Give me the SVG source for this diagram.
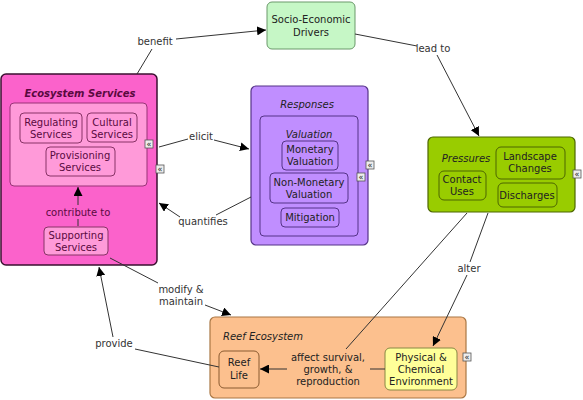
<svg xmlns="http://www.w3.org/2000/svg" width="583" height="400" viewBox="0 0 583 400">
<defs>
<marker id="ah" viewBox="0 0 10 10" refX="10" refY="5" markerWidth="9" markerHeight="9" markerUnits="userSpaceOnUse" orient="auto">
<path d="M0,0 L10,5 L0,10 z" fill="#000"/>
</marker>
</defs>
<style>
text{font-family:"DejaVu Sans",Verdana,sans-serif;font-size:10px;text-anchor:middle;fill:#222}
.es{fill:#5a0a3f}
.title{font-style:italic}
.bt{font-weight:bold}
.lbl{fill:#333}
.con{fill:none;stroke:#333;stroke-width:1}
.arr{marker-end:url(#ah)}
.icon rect{fill:#eee;stroke:#555;stroke-width:0.8}
.icon text{font-size:8px;fill:#222}
</style>
<rect width="583" height="400" fill="#fff"/>

<g id="ecosystem-services">
<rect x="1" y="74" width="156" height="191" rx="5" fill="#fb62cb" stroke="#3a1030" stroke-width="1.5"/>
<text class="es title bt" x="80" y="97">Ecosystem Services</text>
<rect x="10" y="103" width="137" height="83" rx="4" fill="#ff9ad9" stroke="#993377"/>
</g>
<g id="regulating-services">
<rect x="20" y="113" width="62" height="30" rx="4" fill="#ff9ad9" stroke="#883366"/>
<text class="es" x="51" y="126">Regulating</text>
<text class="es" x="51" y="138">Services</text>
</g>
<g id="cultural-services">
<rect x="87" y="113" width="50" height="29" rx="4" fill="#ff9ad9" stroke="#883366"/>
<text class="es" x="112" y="126">Cultural</text>
<text class="es" x="112" y="138">Services</text>
</g>
<g id="provisioning-services">
<rect x="46" y="147" width="69" height="29" rx="4" fill="#ff9ad9" stroke="#883366"/>
<text class="es" x="80" y="159">Provisioning</text>
<text class="es" x="80" y="171">Services</text>
</g>
<g id="supporting-services">
<rect x="44" y="227" width="64" height="28" rx="4" fill="#ff9ad9" stroke="#883366"/>
<text class="es" x="76" y="239">Supporting</text>
<text class="es" x="76" y="251">Services</text>
</g>
<g class="icon">
<rect x="145" y="140" width="8" height="8"/><text x="149" y="147">«</text>
<rect x="156" y="165" width="8" height="8"/><text x="160" y="172">«</text>
</g>

<g id="socio-economic-drivers">
<rect x="267" y="2" width="88" height="47" rx="5" fill="#c6f7c6" stroke="#6a996a"/>
<text x="311" y="23">Socio-Economic</text>
<text x="311" y="36">Drivers</text>
</g>

<g id="responses">
<rect x="251" y="86" width="117" height="159" rx="5" fill="#c08eff" stroke="#553388" stroke-width="1.2"/>
<text class="title" x="307" y="108" fill="#2a1144">Responses</text>
</g>
<g id="valuation">
<rect x="260" y="116" width="98" height="120" rx="4" fill="#c08eff" stroke="#553388"/>
<text class="title" x="309" y="138">Valuation</text>
</g>
<g id="monetary-valuation">
<rect x="282" y="141" width="56" height="29" rx="4" fill="#c08eff" stroke="#553388"/>
<text x="310" y="153">Monetary</text>
<text x="310" y="165">Valuation</text>
</g>
<g id="non-monetary-valuation">
<rect x="270" y="173" width="78" height="30" rx="4" fill="#c08eff" stroke="#553388"/>
<text x="309" y="186">Non-Monetary</text>
<text x="309" y="198">Valuation</text>
</g>
<g id="mitigation">
<rect x="281" y="208" width="58" height="19" rx="4" fill="#c08eff" stroke="#553388"/>
<text x="310" y="221">Mitigation</text>
</g>
<g class="icon">
<rect x="366" y="161" width="8" height="8"/><text x="370" y="168">«</text>
<rect x="357" y="173" width="8" height="8"/><text x="361" y="180">«</text>
</g>

<g id="pressures">
<rect x="428" y="137" width="147" height="75" rx="5" fill="#99cc00" stroke="#4d6600" stroke-width="1.2"/>
<text class="title" x="466" y="162" fill="#1e2e00">Pressures</text>
</g>
<g id="landscape-changes">
<rect x="496" y="147" width="69" height="32" rx="5" fill="#99cc00" stroke="#4d6600"/>
<text x="530" y="160">Landscape</text>
<text x="530" y="172">Changes</text>
</g>
<g id="contact-uses">
<rect x="439" y="171" width="47" height="29" rx="5" fill="#99cc00" stroke="#4d6600"/>
<text x="462" y="183">Contact</text>
<text x="462" y="195">Uses</text>
</g>
<g id="discharges">
<rect x="498" y="183" width="59" height="24" rx="5" fill="#99cc00" stroke="#4d6600"/>
<text x="527" y="199">Discharges</text>
</g>
<g class="icon">
<rect x="573" y="170" width="8" height="8"/><text x="577" y="177">«</text>
</g>

<g id="reef-ecosystem">
<rect x="210" y="317" width="256" height="81" rx="5" fill="#fcc08e" stroke="#aa7744" stroke-width="1.2"/>
<text class="title" x="263" y="340" fill="#2a1a0a">Reef Ecosystem</text>
</g>
<g id="reef-life">
<rect x="219" y="351" width="40" height="37" rx="5" fill="#fcc08e" stroke="#8a5a30"/>
<text x="239" y="366">Reef</text>
<text x="239" y="379">Life</text>
</g>
<g id="physical-chemical-environment">
<rect x="385" y="348" width="72" height="42" rx="5" fill="#ffff99" stroke="#888844"/>
<text x="421" y="361">Physical &amp;</text>
<text x="421" y="373">Chemical</text>
<text x="421" y="385">Environment</text>
</g>
<g class="icon">
<rect x="463" y="353" width="8" height="8"/><text x="467" y="360">«</text>
</g>

<g id="connectors">
<polyline class="con" points="137,74 152,49"/>
<polyline class="con arr" points="176,39 266,30"/>
<polyline class="con" points="355,34 417,46"/>
<polyline class="con arr" points="437,55 479,136"/>
<polyline class="con" points="159,147 188,139"/>
<polyline class="con arr" points="214,140 249,149"/>
<polyline class="con" points="251,197 216,215"/>
<polyline class="con arr" points="180,217 159,203"/>
<polyline class="con" points="110,258 158,283"/>
<polyline class="con arr" points="205,305 231,315"/>
<polyline class="con" points="219,367 135,349"/>
<polyline class="con arr" points="113,337 99,267"/>
<polyline class="con" points="467,213 346,349"/>
<polyline class="con" points="488,213 470,262"/>
<polyline class="con arr" points="467,275 433,346"/>
<polyline class="con" points="385,369 370,369"/>
<polyline class="con arr" points="287,369 260,369"/>
<polyline class="con" stroke="#5a0a3f" points="78,226 78,219"/>
<polyline class="con arr" points="78,205 78,187"/>
<text class="lbl" x="155" y="45">benefit</text>
<text class="lbl" x="433" y="52">lead to</text>
<text class="lbl" x="201" y="140">elicit</text>
<text class="lbl" x="203" y="225">quantifies</text>
<text class="lbl" x="181" y="293">modify &amp;</text>
<text class="lbl" x="181" y="305">maintain</text>
<text class="lbl" x="114" y="347">provide</text>
<text class="lbl" x="469" y="272">alter</text>
<text class="es" x="78" y="216">contribute to</text>
<text x="328" y="361">affect survival,</text>
<text x="328" y="373">growth, &amp;</text>
<text x="328" y="385">reproduction</text>
</g>
</svg>
